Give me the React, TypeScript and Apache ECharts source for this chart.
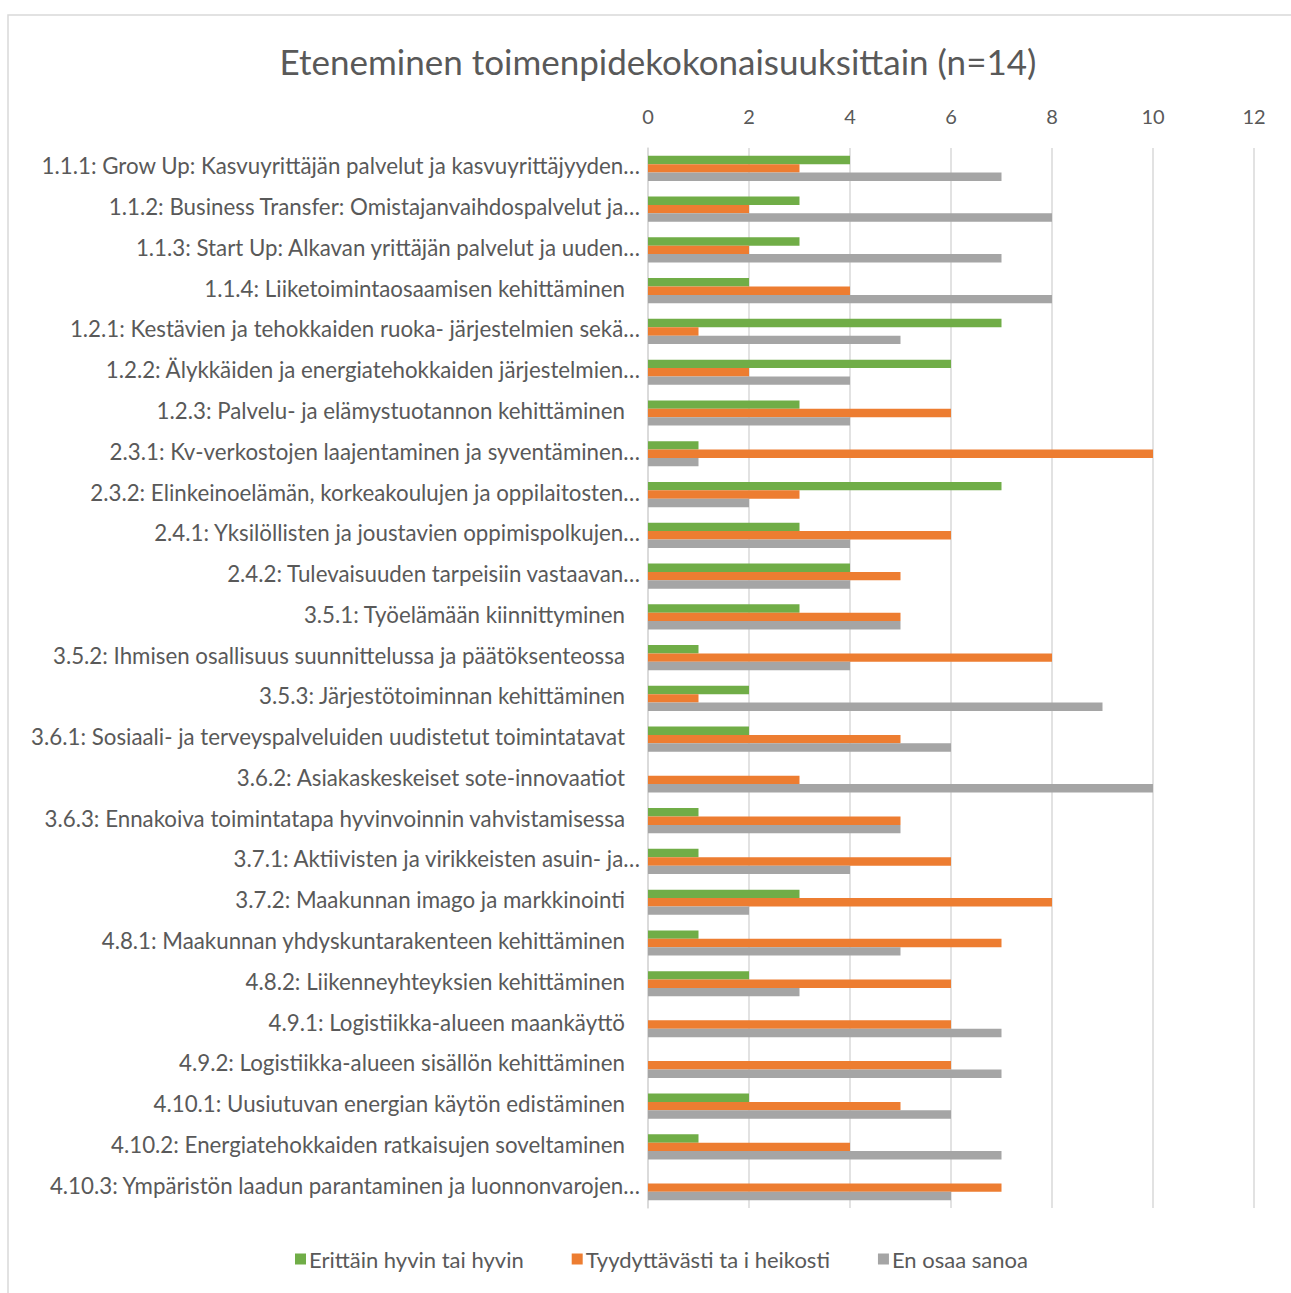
import React, { useEffect, useRef } from "react";
import * as echarts from "echarts";

const categories = [
  "1.1.1: Grow Up: Kasvuyrittäjän palvelut ja kasvuyrittäjyyden…",
  "1.1.2: Business Transfer: Omistajanvaihdospalvelut ja…",
  "1.1.3: Start Up: Alkavan yrittäjän palvelut ja uuden…",
  "1.1.4: Liiketoimintaosaamisen kehittäminen",
  "1.2.1: Kestävien ja tehokkaiden ruoka- järjestelmien sekä…",
  "1.2.2: Älykkäiden ja energiatehokkaiden järjestelmien…",
  "1.2.3: Palvelu- ja elämystuotannon kehittäminen",
  "2.3.1: Kv-verkostojen laajentaminen ja syventäminen…",
  "2.3.2: Elinkeinoelämän, korkeakoulujen ja oppilaitosten…",
  "2.4.1: Yksilöllisten ja joustavien oppimispolkujen…",
  "2.4.2: Tulevaisuuden tarpeisiin vastaavan…",
  "3.5.1: Työelämään kiinnittyminen",
  "3.5.2: Ihmisen osallisuus suunnittelussa ja päätöksenteossa",
  "3.5.3: Järjestötoiminnan kehittäminen",
  "3.6.1: Sosiaali- ja terveyspalveluiden uudistetut toimintatavat",
  "3.6.2: Asiakaskeskeiset sote-innovaatiot",
  "3.6.3: Ennakoiva toimintatapa hyvinvoinnin vahvistamisessa",
  "3.7.1: Aktiivisten ja virikkeisten asuin- ja…",
  "3.7.2: Maakunnan imago ja markkinointi",
  "4.8.1: Maakunnan yhdyskuntarakenteen kehittäminen",
  "4.8.2: Liikenneyhteyksien kehittäminen",
  "4.9.1: Logistiikka-alueen maankäyttö",
  "4.9.2: Logistiikka-alueen sisällön kehittäminen",
  "4.10.1: Uusiutuvan energian käytön edistäminen",
  "4.10.2: Energiatehokkaiden ratkaisujen soveltaminen",
  "4.10.3: Ympäristön laadun parantaminen ja luonnonvarojen…",
];

const seriesNames = [
  "Erittäin hyvin tai hyvin",
  "Tyydyttävästi ta i heikosti",
  "En osaa sanoa",
];

const good = [4, 3, 3, 2, 7, 6, 3, 1, 7, 3, 4, 3, 1, 2, 2, 0, 1, 1, 3, 1, 2, 0, 0, 2, 1, 0];
const weak = [3, 2, 2, 4, 1, 2, 6, 10, 3, 6, 5, 5, 8, 1, 5, 3, 5, 6, 8, 7, 6, 6, 6, 5, 4, 7];
const dontKnow = [7, 8, 7, 8, 5, 4, 4, 1, 2, 4, 4, 5, 4, 9, 6, 10, 5, 4, 2, 5, 3, 7, 7, 6, 7, 6];

const xTicks = [0, 2, 4, 6, 8, 10, 12];

const colors = ["#70AD47", "#ED7D31", "#A5A5A5"];
const FONT = "Lato";
const TEXT = "#595959";

export default function App() {
  const ref = useRef<HTMLDivElement>(null);
  useEffect(() => {
    if (!ref.current) return;
    const chart = echarts.init(ref.current, null, { renderer: "svg" });
    const values = [good, weak, dontKnow];
    const labelBase = { fontFamily: FONT, fontSize: 22.3, color: TEXT };
    chart.setOption({
      animation: false,
      backgroundColor: "#ffffff",
      textStyle: { fontFamily: FONT },
      title: {
        text: "Eteneminen toimenpidekokonaisuuksittain (n=14)",
        left: 653,
        textAlign: "center",
        top: 38,
        textStyle: { fontFamily: FONT, fontSize: 35, fontWeight: "normal", color: TEXT },
      },
      graphic: [
        {
          type: "rect",
          shape: { x: 8, y: 15, width: 1300, height: 1300 },
          style: { fill: "none", stroke: "#d9d9d9", lineWidth: 1.5 },
          silent: true,
        },
      ],
      legend: {
        bottom: 18,
        left: 290,
        itemWidth: 11,
        itemHeight: 11,
        itemGap: 48,
        icon: "rect",
        textStyle: { fontFamily: FONT, fontSize: 22, color: TEXT, padding: [0, 0, 0, -2] },
        data: seriesNames,
      },
      grid: { left: 648, right: 37, top: 148, bottom: 85, containLabel: false },
      xAxis: {
        type: "value",
        position: "top",
        min: xTicks[0],
        max: xTicks[xTicks.length - 1],
        interval: 2,
        axisLine: { show: false },
        axisTick: { show: false },
        axisLabel: { fontFamily: FONT, fontSize: 20, color: TEXT, margin: 22 },
        splitLine: { show: true, lineStyle: { color: "#d9d9d9", width: 1.5 } },
      },
      yAxis: {
        type: "category",
        inverse: true,
        data: categories,
        axisLine: { show: true, lineStyle: { color: "#d9d9d9", width: 1.5 } },
        axisTick: { show: false },
        axisLabel: {
          ...labelBase,
          margin: 8,
          formatter: (v: string) => (v.endsWith("…") ? `{e|${v}}` : `{p|${v}}`),
          rich: {
            e: { ...labelBase, padding: [0, 0, 5, 0] },
            p: { ...labelBase, padding: [0, 15, 5, 0] },
          },
        },
      },
      series: seriesNames.map((name, i) => ({
        name,
        type: "bar",
        data: values[i],
        barWidth: 8.4,
        barGap: "0%",
        itemStyle: { color: colors[i] },
      })),
    });
    return () => chart.dispose();
  }, []);
  return (
    <div
      ref={ref}
      style={{ position: "fixed", left: 0, top: 0, width: 1291, height: 1293 }}
    />
  );
}
